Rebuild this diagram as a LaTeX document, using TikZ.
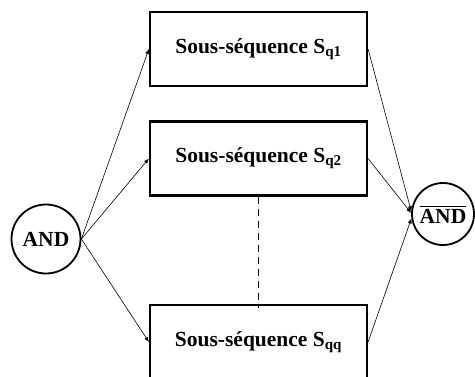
\documentclass[tikz,border=0pt]{standalone}
\usepackage{amsmath}
\usepackage{fontspec}
\setmainfont{Liberation Serif}
\usetikzlibrary{arrows.meta}

\begin{document}
\begin{tikzpicture}[x=1pt,y=-1pt,
	seqbox/.style={draw,line width=2.2pt,minimum width=217pt,minimum height=74pt,font=\bfseries\fontsize{21.5}{24}\selectfont},
	gate/.style={draw,circle,line width=1.8pt,inner sep=0pt,font=\bfseries\fontsize{21.5}{24}\selectfont},
	link/.style={-{Latex[length=5pt,width=4pt]},line width=0.6pt}]
	\useasboundingbox (0,0) rectangle (475,376);
	\clip (0,0) rectangle (475,376);
	
	%sous-sequences
	\node[seqbox] (s1) at (258.5,49) {Sous-séquence S$_{\text{\bfseries q1}}$};
	\node[seqbox] (s2) at (258.5,158.5) {Sous-séquence S$_{\text{\bfseries q2}}$};
	\node[seqbox] (sq) at (258.5,342) {Sous-séquence S$_{\text{\bfseries qq}}$};
	
	%portes
	\node[gate,minimum size=69pt] (and) at (46,239) {AND};
	\node[gate,minimum size=62pt] (nand) at (443,214) {$\overline{\text{\bfseries AND}}$};
	
	\draw[dash pattern=on 7pt off 5pt,line width=1.3pt] (s2.south) -- ([yshift=-4pt]sq.north);
	
	\draw[link] (and.east) -- (s1.west);
	\draw[link] (and.east) -- (s2.west);
	\draw[link] (and.east) -- (sq.west);
	
	\draw[link] (s1.east) -- (nand.175);
	\draw[link] (s2.east) -- (nand.178);
	\draw[link] (sq.east) -- (nand.188);
	
\end{tikzpicture}
\end{document}
